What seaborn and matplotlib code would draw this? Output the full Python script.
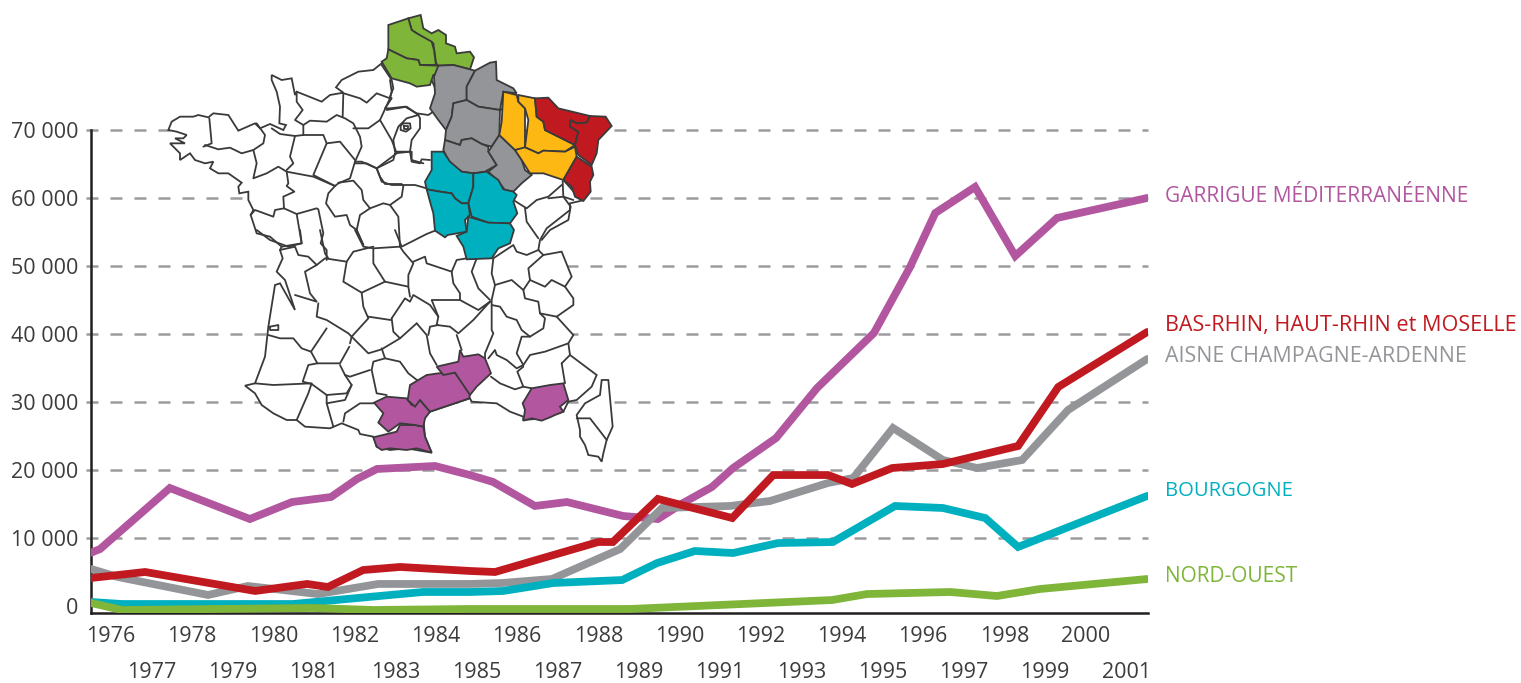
import matplotlib
matplotlib.use('Agg')
import matplotlib.pyplot as plt
import seaborn as sns
from matplotlib.patches import Polygon

# series: x is a fractional year, since the kinks are not on regular years
garrigueX = [1975.51, 1975.73, 1977.45, 1979.42, 1980.46, 1981.42, 1982.06, 1982.55, 1983.98, 1984.84, 1985.41, 1986.44, 1987.23, 1988.61, 1989.47, 1990.09, 1990.80, 1991.32, 1992.38, 1993.39, 1994.79, 1995.68, 1996.30, 1997.28, 1998.27, 1999.30, 2001.52]
garrigueY = [7840, 8380, 17350, 12790, 15290, 16030, 18680, 20150, 20590, 19260, 18240, 14710, 15290, 13240, 12790, 15150, 17500, 20290, 24700, 32060, 40150, 49850, 57790, 61620, 51470, 57060, 60000]
rhinX = [1975.51, 1976.84, 1979.55, 1980.83, 1981.34, 1982.21, 1983.12, 1984.84, 1985.46, 1986.81, 1988.0, 1988.36, 1989.47, 1991.30, 1992.31, 1993.66, 1994.25, 1995.24, 1996.49, 1998.34, 1999.33, 2001.52]
rhinY = [4120, 5000, 2210, 3240, 2790, 5290, 5740, 5150, 5000, 7350, 9410, 9410, 15740, 12940, 19260, 19260, 17940, 20290, 20880, 23530, 32210, 40290]
aisneX = [1975.51, 1976.17, 1978.39, 1979.37, 1981.10, 1982.58, 1984.84, 1985.63, 1986.86, 1988.54, 1989.57, 1991.25, 1992.23, 1993.66, 1994.28, 1995.26, 1996.49, 1997.33, 1998.44, 1999.57, 2001.52]
aisneY = [5440, 4260, 1620, 2940, 1760, 3240, 3240, 3380, 3970, 8380, 14410, 14710, 15440, 18090, 18820, 26180, 21470, 20290, 21470, 28820, 36320]
bourgogneX = [1975.51, 1976.27, 1980.48, 1981.81, 1983.68, 1984.84, 1985.66, 1986.89, 1988.59, 1989.45, 1990.38, 1991.32, 1992.43, 1993.78, 1995.31, 1996.49, 1997.53, 1998.34, 2001.52]
bourgogneY = [590, 290, 290, 1030, 2060, 2060, 2210, 3380, 3820, 6320, 8090, 7790, 9260, 9410, 14710, 14410, 12940, 8680, 16180]
nordX = [1975.51, 1976.27, 1980.98, 1982.45, 1984.84, 1988.78, 1993.76, 1994.62, 1996.67, 1997.82, 1998.88, 2001.52]
nordY = [440, -590, -290, -590, -440, -440, 880, 1760, 2060, 1470, 2500, 3970]

yLevels = [0, 10000, 20000, 30000, 40000, 50000, 60000, 70000]
yLabels = ['0', '10 000', '20 000', '30 000', '40 000', '50 000', '60 000', '70 000']
evenYears = list(range(1976, 2001, 2))
oddYears = list(range(1977, 2002, 2))

PINK = '#b2569f'
RED = '#c01a20'
GREY = '#939598'
CYAN = '#00b0bf'
GREEN = '#7fb539'
ORANGE = '#fdb813'
DARK = '#231f20'

sns.set_style('white')
plt.rcParams['font.family'] = ['Open Sans', 'DejaVu Sans']

W, H = 1521, 683
fig = plt.figure(figsize=(W / 100, H / 100), dpi=100)
ax = fig.add_axes([91 / W, 1 - 613 / H, (1148 - 91) / W, (613 - 130) / H])

for xs, ys, col in [(garrigueX, garrigueY, PINK), (aisneX, aisneY, GREY), (bourgogneX, bourgogneY, CYAN),
                    (nordX, nordY, GREEN), (rhinX, rhinY, RED)]:
    sns.lineplot(x=xs, y=ys, color=col, linewidth=5.6, sort=False, estimator=None, ax=ax, zorder=3,
                 solid_joinstyle='miter', solid_capstyle='round')

ax.set_xlim(1975.507, 2001.54)
ax.set_ylim(-1030, 70000)
ax.hlines(yLevels[1:], -5 / 1057, 1, transform=ax.get_yaxis_transform(), clip_on=False,
          colors='#9c9ca0', linewidth=1.8, linestyles=[(0, (4.8, 4.8))], zorder=1)
for s in ['top', 'right']:
    ax.spines[s].set_visible(False)
for s in ['left', 'bottom']:
    ax.spines[s].set_color(DARK)
    ax.spines[s].set_linewidth(1.8)
ax.set_yticks(yLevels)
ax.set_yticklabels(yLabels, fontsize=15.5, color='#3c3c3c')
ax.set_xticks(evenYears)
ax.set_xticklabels(evenYears, fontsize=15.5, color='#3c3c3c')
ax.set_xticks(oddYears, minor=True)
ax.set_xticklabels(oddYears, minor=True, fontsize=15.5, color='#3c3c3c')
ax.tick_params(axis='y', length=0, pad=9)
ax.tick_params(axis='x', which='major', length=0, pad=9)
ax.tick_params(axis='x', which='minor', length=0, pad=35)


# map, traced in the zoomed crops of the picture
def z1(pts):
    return [(160 + x / 3, y / 3) for x, y in pts]
def z2(pts):
    return [(230 + x / 3, 230 + y / 3) for x, y in pts]
def z9(pts):
    return [(160 + x / 3, 60 + y / 3) for x, y in pts]
def z10(pts):
    return [(400 + x / 3, 100 + y / 3) for x, y in pts]


outline = z1([(665, 190), (640, 210), (595, 215), (545, 240), (528, 262), (550, 278), (510, 285), (485, 305), (410, 275), (405, 285), (395, 235), (365, 240), (335, 225), (335, 240), (350, 275), (360, 320), (358, 370), (378, 375), (370, 390), (330, 372), (300, 385), (285, 370), (235, 392), (205, 345), (160, 340), (145, 352), (115, 345), (100, 350), (60, 350), (35, 365), (25, 390), (50, 395), (80, 405), (70, 415), (45, 415), (75, 430), (30, 430), (60, 460), (60, 480), (90, 460), (105, 480), (135, 490), (160, 485), (150, 505), (175, 520), (205, 520), (245, 548), (235, 560), (238, 580), (265, 575), (265, 600), (280, 630), (272, 645)])
outline += z9([(290, 520), (330, 530), (365, 560)])
outline += z2([(150, 60), (158, 85), (140, 125), (165, 150), (195, 240), (150, 160), (135, 165), (115, 290), (105, 380), (75, 460), (45, 467), (75, 490), (95, 525), (130, 550), (170, 570), (200, 570), (225, 590), (300, 595), (335, 580), (385, 600), (390, 612), (430, 620), (440, 650), (480, 660), (530, 655), (605, 668), (585, 620), (580, 565), (600, 545), (720, 505), (725, 515), (800, 520), (840, 545), (880, 560), (880, 570), (940, 565), (1000, 545), (1015, 515), (1040, 510), (1085, 470), (1100, 435), (1060, 405), (1020, 375), (1015, 340), (1030, 315), (980, 260), (1030, 225), (1030, 205), (1005, 170), (1025, 140), (995, 65), (940, 75), (925, 60)])
outline += z10([(415, 450), (420, 420), (440, 385), (510, 330), (510, 310), (545, 302), (490, 240)])
# closes under the coloured departments
outline += z1([(1000, 300), (840, 300), (815, 240), (700, 200)])
corsica = z2([(1135, 450), (1115, 450), (1110, 495), (1065, 520), (1040, 555), (1050, 600), (1050, 620), (1065, 645), (1075, 675), (1105, 680), (1115, 695), (1120, 670), (1130, 630), (1148, 590)])

coloured = [
    (GREEN, z1([(745, 55), (782, 45), (790, 85), (815, 100), (835, 90), (858, 105), (858, 130), (885, 140), (890, 160), (930, 155), (942, 172), (930, 208), (880, 195), (835, 197), (828, 190), (820, 130), (770, 100), (755, 90)])),
    (GREEN, z1([(685, 75), (745, 55), (755, 90), (770, 100), (815, 125), (822, 150), (828, 195), (780, 195), (775, 180), (740, 175), (685, 148)])),
    (GREEN, z1([(685, 148), (740, 175), (775, 180), (780, 195), (835, 197), (835, 220), (820, 225), (810, 255), (770, 260), (750, 250), (695, 235), (665, 185), (680, 175)])),
    (GREY, z1([(835, 197), (880, 195), (945, 212), (920, 260), (920, 300), (880, 310), (875, 350), (858, 390), (835, 360), (810, 325), (825, 280), (822, 230)])),
    (GREY, z1([(945, 212), (990, 188), (1008, 185), (1010, 240), (1060, 265), (1070, 280), (1030, 275), (1020, 330), (955, 320), (920, 300), (920, 260)])),
    (GREY, z1([(880, 310), (920, 300), (955, 320), (1020, 330), (1018, 405), (995, 440), (965, 432), (935, 415), (905, 420), (900, 435), (855, 420), (858, 390), (875, 350)])),
    (GREY, z1([(855, 420), (900, 435), (905, 420), (935, 415), (965, 432), (985, 440), (985, 455), (1010, 495), (975, 515), (940, 520), (905, 515), (870, 490), (850, 450)])),
    (GREY, z1([(995, 440), (1018, 405), (1065, 450), (1085, 480), (1095, 510), (1115, 525), (1085, 550), (1060, 575), (1035, 570), (1015, 545), (985, 515), (1010, 495), (985, 455)])),
    (ORANGE, z1([(1030, 275), (1070, 285), (1075, 305), (1095, 325), (1095, 445), (1065, 450), (1018, 405), (1025, 365)])),
    (ORANGE, z1([(1075, 285), (1125, 295), (1130, 350), (1150, 365), (1155, 390), (1245, 435), (1215, 455), (1150, 452), (1135, 460), (1095, 442), (1105, 360), (1095, 325), (1075, 305)])),
    (ORANGE, z1([(1065, 450), (1095, 442), (1135, 460), (1150, 452), (1215, 455), (1245, 440), (1250, 470), (1210, 540), (1150, 520), (1110, 520), (1085, 480)])),
    (RED, z1([(1125, 295), (1165, 293), (1195, 325), (1290, 348), (1280, 368), (1250, 370), (1232, 360), (1230, 380), (1255, 395), (1245, 435), (1155, 390), (1150, 365), (1130, 350)])),
    (RED, z1([(1290, 348), (1337, 350), (1355, 378), (1315, 420), (1310, 460), (1295, 495), (1255, 465), (1245, 435), (1255, 395), (1230, 380), (1232, 360), (1250, 370), (1280, 368)])),
    (RED, z1([(1250, 470), (1295, 500), (1300, 525), (1290, 545), (1292, 575), (1270, 603), (1245, 590), (1235, 560), (1210, 540)])),
    (CYAN, z10([(95, 155), (130, 155), (150, 185), (185, 215), (220, 220), (220, 260), (205, 310), (185, 310), (165, 295), (155, 280), (120, 275), (80, 268), (75, 245), (95, 210)])),
    (CYAN, z10([(220, 220), (260, 215), (295, 240), (310, 268), (340, 275), (350, 285), (340, 305), (352, 340), (330, 370), (265, 368), (215, 350), (205, 310), (220, 260)])),
    (CYAN, z10([(80, 268), (120, 275), (155, 280), (165, 295), (185, 310), (205, 310), (210, 345), (195, 360), (200, 395), (143, 405), (135, 412), (105, 392), (100, 340), (90, 305)])),
    (CYAN, z10([(205, 350), (265, 368), (330, 370), (342, 390), (330, 430), (295, 445), (275, 475), (200, 478), (190, 440), (170, 408), (200, 395)])),
    (PINK, z2([(430, 622), (500, 605), (510, 585), (555, 585), (580, 590), (585, 620), (605, 668), (560, 655), (530, 660), (480, 655), (455, 660), (440, 650)])),
    (PINK, z2([(432, 518), (470, 500), (530, 505), (545, 525), (570, 510), (600, 545), (585, 565), (580, 590), (555, 585), (510, 580), (475, 605), (445, 578), (460, 550)])),
    (PINK, z2([(540, 465), (590, 435), (625, 430), (675, 428), (720, 490), (718, 505), (600, 545), (570, 510), (555, 530), (533, 510)])),
    (PINK, z2([(620, 410), (685, 395), (690, 360), (700, 380), (745, 373), (765, 385), (783, 430), (740, 470), (720, 495), (675, 428), (640, 435)])),
    (PINK, z2([(905, 475), (960, 465), (1000, 460), (1015, 510), (990, 530), (1000, 545), (975, 555), (960, 562), (935, 572), (905, 565), (880, 572), (885, 540), (878, 520)])),
]

borders = [
    z2([(1040, 565), (1080, 565), (1115, 610), (1130, 630)]),
    # west
    z9([(148, 175), (155, 250), (130, 260)]), z9([(135, 255), (175, 268), (210, 263), (245, 280), (280, 270)]),
    z9([(290, 190), (315, 225), (310, 250), (280, 270), (290, 310), (280, 355), (320, 340), (355, 320), (380, 335), (385, 370), (380, 378), (403, 395), (370, 410), (372, 445), (345, 450), (340, 470), (285, 450), (272, 465)]),
    z9([(372, 445), (410, 462), (470, 445), (475, 448), (490, 520), (482, 550), (500, 570), (500, 600)]),
    z9([(335, 205), (360, 222), (405, 228), (390, 290), (400, 310), (380, 330)]),
    z9([(405, 228), (430, 225), (490, 225), (500, 250), (460, 345), (525, 378), (505, 400), (498, 430), (525, 470), (560, 465), (570, 495), (590, 510), (610, 555)]),
    z9([(380, 335), (460, 350), (525, 378)]),
    z9([(430, 225), (430, 195), (405, 180), (428, 150), (410, 125), (410, 100)]),
    z9([(430, 195), (450, 182), (500, 185), (530, 165), (555, 175), (580, 190), (600, 230), (605, 260), (585, 305), (570, 355), (535, 370), (525, 378)]),
    z9([(550, 100), (548, 170)]), z9([(580, 205), (625, 205), (660, 180)]),
    z9([(545, 98), (600, 115), (620, 128), (650, 100), (690, 115), (695, 95), (690, 60)]),
    z9([(690, 115), (660, 180), (695, 240), (710, 280), (650, 325), (605, 305), (585, 305)]),
    z9([(500, 250), (540, 245), (585, 300)]),
    z9([(650, 325), (660, 350), (675, 372), (725, 372), (730, 378), (725, 410), (690, 435), (715, 470), (720, 560)]),
    z9([(535, 368), (580, 362), (605, 390), (610, 420), (630, 445), (670, 430), (690, 435)]),
    z9([(630, 445), (600, 465), (590, 510), (610, 555)]),
    z9([(410, 462), (425, 550), (365, 560)]),
    # oise and paris
    z1([(665, 195), (695, 240), (700, 265), (690, 290), (695, 295), (675, 325), (690, 325), (735, 320), (770, 340), (805, 345), (820, 335)]),
    z9([(680, 150), (740, 140), (775, 165), (780, 175), (780, 205), (755, 240), (750, 275), (705, 275), (700, 240), (715, 200), (740, 175), (775, 165)]),
    z9([(755, 275), (755, 300), (790, 310)]),
    z9([(730, 190), (750, 190), (752, 205), (738, 215), (722, 210), (722, 197), (730, 190)]),
    z9([(732, 198), (745, 198), (745, 206), (732, 206), (732, 198)]),
    # centre and east
    z1([(705, 460), (750, 455), (755, 485), (780, 490), (785, 478), (810, 480)]),
    z1([(585, 490), (620, 490), (650, 505), (700, 480), (705, 460)]),
    z1([(650, 505), (665, 545), (695, 555), (725, 555), (765, 555), (800, 565)]),
    z1([(1060, 600), (1100, 625), (1130, 600), (1165, 590), (1205, 555)]),
    z1([(1095, 625), (1100, 665), (1135, 715)]),
    z1([(1165, 595), (1210, 590), (1232, 620), (1225, 660), (1170, 690), (1145, 720)]),
    z1([(1208, 545), (1210, 590), (1240, 600)]),
    # south
    z2([(80, 0), (120, 30), (175, 50), (215, 40), (210, 0)]),
    z2([(150, 60), (195, 50), (205, 75), (235, 80), (260, 105), (225, 125), (240, 190), (260, 215), (195, 195)]),
    z2([(260, 105), (285, 85), (350, 95), (370, 65), (430, 50)]),
    z2([(350, 95), (340, 155), (395, 188), (465, 155), (535, 170)]),
    z2([(270, 0), (285, 70), (295, 85)]),
    z2([(375, 0), (400, 50), (430, 55), (510, 50), (520, 65), (550, 100), (535, 135), (535, 170), (540, 200)]),
    z2([(430, 55), (430, 100), (465, 155)]),
    z2([(495, 0), (515, 50), (590, 12), (620, 0)]),
    z2([(550, 95), (585, 80), (590, 100), (665, 125), (680, 90), (710, 85), (740, 85), (725, 125), (745, 175), (780, 210)]),
    z2([(665, 125), (670, 160), (690, 190), (690, 210)]),
    z2([(790, 85), (785, 130), (795, 165), (785, 210), (785, 300), (790, 310), (765, 370), (765, 385)]),
    z2([(790, 85), (850, 45), (860, 65), (890, 75), (925, 60)]),
    z2([(940, 75), (895, 115), (900, 150), (945, 170), (965, 150), (1005, 170)]),
    z2([(795, 165), (845, 150), (880, 180), (885, 205), (925, 215), (930, 250), (980, 260)]),
    z2([(880, 180), (900, 150)]),
    z2([(785, 225), (810, 230), (830, 260), (860, 270), (875, 300), (900, 320), (940, 295), (945, 265), (930, 250)]),
    z2([(775, 385), (795, 360), (800, 375), (830, 390), (860, 415), (880, 405), (860, 370), (875, 320), (900, 320)]),
    z2([(880, 405), (900, 375), (945, 365), (1015, 340)]),
    z2([(880, 410), (862, 425), (880, 470)]),
    z2([(995, 400), (1020, 375)]), z2([(995, 400), (1005, 460)]),
    z2([(783, 440), (810, 460), (855, 478), (880, 470), (905, 475)]),
    z2([(780, 215), (745, 240), (690, 210), (605, 210), (625, 260), (620, 285), (660, 290), (685, 310), (730, 270), (780, 215)]),
    z2([(485, 265), (525, 205), (540, 215), (550, 195), (600, 225), (625, 260)]),
    z2([(485, 265), (490, 305), (510, 325)]),
    z2([(560, 280), (590, 315), (600, 370), (620, 405)]),
    z2([(595, 315), (600, 290), (625, 285)]),
    z2([(680, 315), (695, 360)]),
    z2([(395, 188), (400, 230), (415, 265), (365, 320), (360, 340)]),
    z2([(415, 260), (482, 270)]),
    z2([(365, 320), (415, 370), (455, 358), (510, 325), (560, 280)]),
    z2([(455, 355), (465, 385), (430, 395), (425, 420), (440, 490), (470, 495)]),
    z2([(465, 385), (510, 395), (535, 430), (580, 465)]),
    z2([(265, 220), (260, 260), (290, 270), (355, 310), (365, 320)]),
    z2([(290, 295), (243, 365), (262, 400), (330, 400), (358, 350)]),
    z2([(115, 315), (150, 325), (190, 325), (215, 355), (243, 365)]),
    z2([(262, 400), (235, 405), (218, 455), (245, 462), (290, 495), (350, 490), (365, 465), (345, 435), (330, 405)]),
    z2([(75, 460), (130, 465), (245, 460), (235, 490), (200, 570)]),
    z2([(290, 495), (290, 520), (310, 590)]),
    z2([(345, 435), (360, 440), (420, 420)]),
    z2([(365, 465), (345, 510), (290, 520)]),
    z2([(340, 575), (345, 550), (390, 520), (430, 520)]),
    z2([(120, 290), (145, 285), (145, 300), (120, 300), (120, 290)]),
]

ov = fig.add_axes([0, 0, 1, 1], facecolor='none')
ov.set_xlim(0, W)
ov.set_ylim(H, 0)
ov.axis('off')
LINE = '#3a3a3a'
LW = 1.3
ov.add_patch(Polygon(outline, closed=True, facecolor='white', edgecolor=LINE, linewidth=LW, zorder=2))
ov.add_patch(Polygon(corsica, closed=True, facecolor='white', edgecolor=LINE, linewidth=LW, zorder=2))
for pts in borders:
    ov.plot([p[0] for p in pts], [p[1] for p in pts], color=LINE, linewidth=LW, zorder=3)
for col, pts in coloured:
    ov.add_patch(Polygon(pts, closed=True, facecolor=col, edgecolor=LINE, linewidth=LW, zorder=4))

for label, yPos, col, size in [('GARRIGUE MÉDITERRANÉENNE', 196, PINK, 15.15), ('BAS-RHIN, HAUT-RHIN et MOSELLE', 325, RED, 15.6),
                               ('AISNE CHAMPAGNE-ARDENNE', 356, GREY, 15.4), ('BOURGOGNE', 491, CYAN, 14.6), ('NORD-OUEST', 576, GREEN, 15)]:
    ov.text(1165, yPos, label, color=col, fontsize=size, va='center', ha='left')

fig.savefig('out.png', dpi=100)
